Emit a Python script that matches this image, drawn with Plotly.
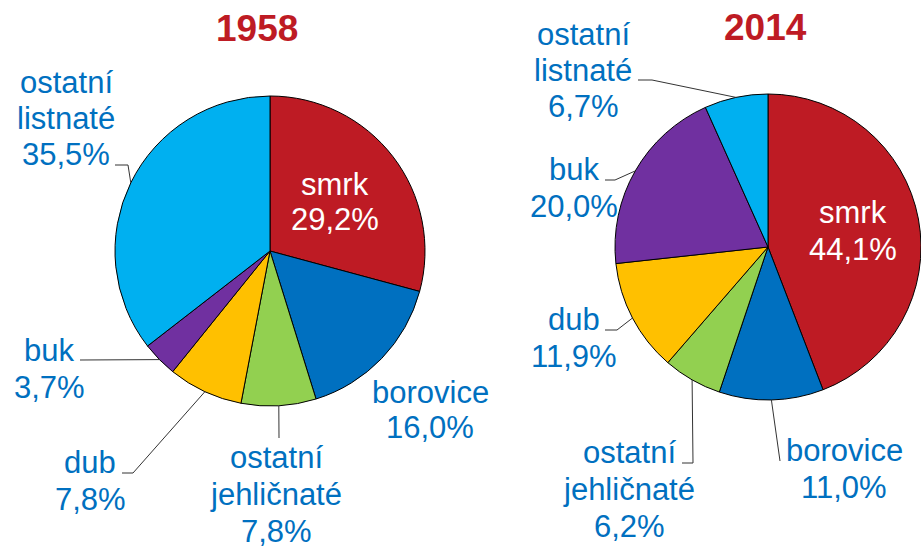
import math
import plotly.graph_objects as go

# ---------------- data ----------------
species = ["smrk", "borovice", "ostatní jehličnaté", "dub", "buk", "ostatní listnaté"]
label_words = [["smrk"], ["borovice"], ["ostatní", "jehličnaté"], ["dub"], ["buk"], ["ostatní", "listnaté"]]
values_1958 = [29.2, 16.0, 7.8, 7.8, 3.7, 35.5]
values_2014 = [44.1, 11.0, 6.2, 11.9, 20.0, 6.7]
years = ["1958", "2014"]
colors = ["#BE1B24", "#0070C0", "#92D050", "#FFC000", "#7030A0", "#00B0F0"]

# ---------------- layout (pixels) ----------------
W, H = 921, 549
FONT = "Liberation Sans, Arial, sans-serif"
LABEL_BLUE = "#0070C0"
TITLE_RED = "#BE1B24"
FS = 31

pies = {
    "1958": dict(values=values_1958, cx=270, cy=251, r=155, title=(257, 28)),
    "2014": dict(values=values_2014, cx=768, cy=247, r=153, title=(765, 27)),
}
# label placement: center x, first baseline y, line step, elbow points (label side)
label_pos = {
    "1958": [
        dict(x=335, y=195, step=35, inside=True, elbow=None),
        dict(x=430, y=403, step=35, inside=False, elbow=None),
        dict(x=276, y=468, step=37, inside=False, elbow=[(279, 438)]),
        dict(x=90, y=473, step=37, inside=False, elbow=[(122, 473), (133, 473)]),
        dict(x=49, y=361, step=37, inside=False, elbow=[(80, 360)]),
        dict(x=66, y=93, step=36, inside=False, elbow=[(115, 165), (128, 165)]),
    ],
    "2014": [
        dict(x=853, y=223, step=37, inside=True, elbow=None),
        dict(x=844, y=461, step=37, inside=False, elbow=[(780, 461)]),
        dict(x=629, y=463, step=37, inside=False, elbow=[(682, 463), (693, 463)]),
        dict(x=574, y=330, step=37, inside=False, elbow=[(605, 330), (617, 330)]),
        dict(x=574, y=180, step=37, inside=False, elbow=[(605, 180), (615, 180)]),
        dict(x=583, y=45, step=36, inside=False, elbow=[(638, 80), (652, 80)]),
    ],
}


def fmt(v):
    return f"{v:.1f}".replace(".", ",") + "%"


fig = go.Figure()
annotations = []
shapes = []

for year in years:
    p = pies[year]
    vals = p["values"]
    total = sum(vals)
    cx, cy, r = p["cx"], p["cy"], p["r"]
    fig.add_trace(go.Pie(
        labels=species, values=vals, sort=False, direction="clockwise", rotation=0,
        marker=dict(colors=colors, line=dict(color="#000000", width=1)),
        textinfo="none", hoverinfo="label+percent", showlegend=False,
        domain=dict(x=[(cx - r) / W, min(1.0, (cx + r) / W)],
                    y=[1 - (cy + r) / H, 1 - (cy - r) / H]),
    ))
    annotations.append(dict(
        text=f"<b>{year}</b>", x=p["title"][0], y=p["title"][1], xref="x", yref="y",
        showarrow=False, font=dict(family=FONT, size=37, color=TITLE_RED),
        xanchor="center", yanchor="middle",
    ))
    cum = 0.0
    for i, v in enumerate(vals):
        mid = (cum + v / 2) / total
        cum += v
        ang = 2 * math.pi * mid
        ax = cx + r * math.sin(ang)
        ay = cy - r * math.cos(ang)
        lp = label_pos[year][i]
        lines = label_words[i] + [fmt(v)]
        col = "#FFFFFF" if lp["inside"] else LABEL_BLUE
        for k, t in enumerate(lines):
            base = lp["y"] + k * lp["step"]
            annotations.append(dict(
                text=t, x=lp["x"], y=base - 0.35 * FS, xref="x", yref="y",
                showarrow=False, font=dict(family=FONT, size=FS, color=col),
                xanchor="center", yanchor="middle",
            ))
        if lp["elbow"]:
            pts = lp["elbow"] + [(ax, ay)]
            path = "M " + " L ".join(f"{px:.1f},{py:.1f}" for px, py in pts)
            shapes.append(dict(type="path", path=path, xref="x", yref="y",
                               line=dict(color="#333333", width=1)))

fig.update_layout(
    width=W, height=H,
    margin=dict(l=0, r=0, t=0, b=0),
    paper_bgcolor="white", plot_bgcolor="rgba(0,0,0,0)",
    xaxis=dict(range=[0, W], visible=False, fixedrange=True),
    yaxis=dict(range=[H, 0], visible=False, fixedrange=True),
    annotations=annotations, shapes=shapes,
)

fig.write_html(
    "out.html",
    config={"displayModeBar": False},
    post_script="document.body.style.margin='0';document.body.style.overflow='hidden';",
)
